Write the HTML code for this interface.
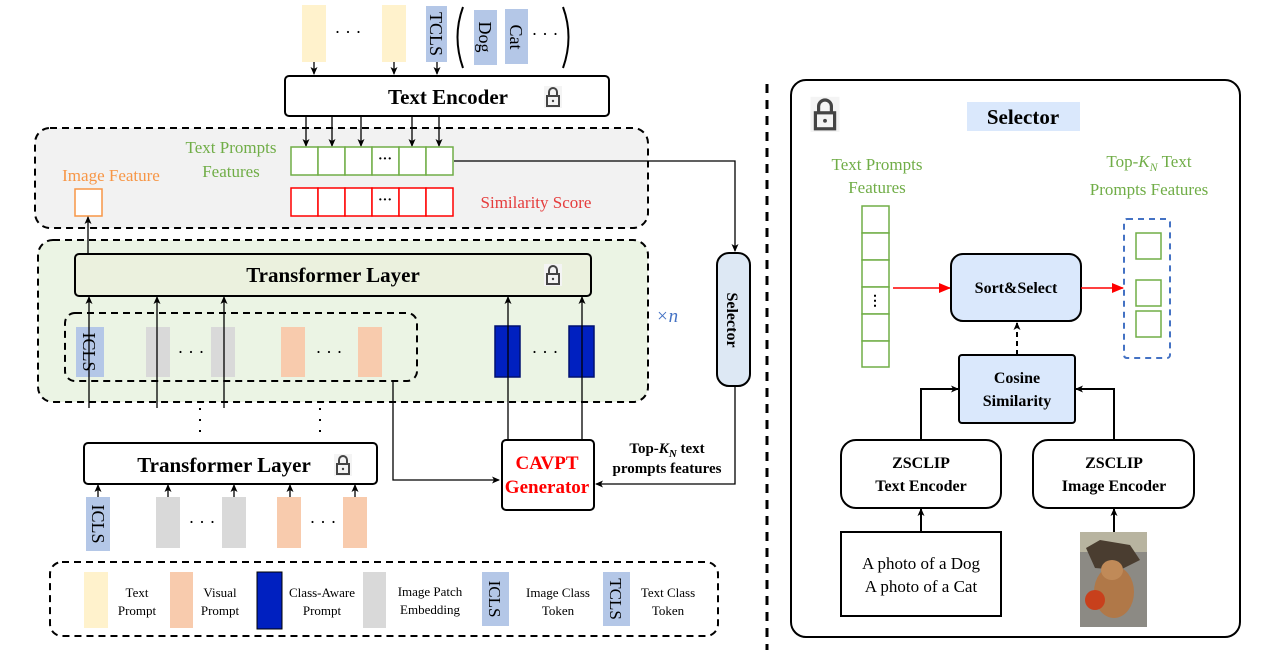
<!DOCTYPE html>
<html><head><meta charset="utf-8"><style>
html,body{margin:0;padding:0;background:#fff}
svg{display:block}
text{font-family:"Liberation Serif",serif}
.b{font-weight:bold}
</style></head><body>
<svg width="1285" height="664" viewBox="0 0 1285 664" xmlns="http://www.w3.org/2000/svg">
<defs>
<marker id="ar" markerWidth="8" markerHeight="8" refX="7" refY="4" orient="auto" markerUnits="userSpaceOnUse"><path d="M0,0.5 L8,4 L0,7.5 L2,4 Z" fill="#000"/></marker>
<marker id="arr" markerWidth="12" markerHeight="10" refX="11" refY="5" orient="auto" markerUnits="userSpaceOnUse"><path d="M0,0 L12,5 L0,10 Z" fill="#f00"/></marker>
<g id="lock"><rect x="-9" y="-12" width="18" height="22" fill="#f4f4f4"/><path d="M-4,-2 V-6 A4,4 0 0 1 4,-6 V-2" fill="none" stroke="#444" stroke-width="2"/><rect x="-6" y="-2" width="12" height="10" fill="none" stroke="#444" stroke-width="2"/><circle cx="0" cy="3" r="1.2" fill="#444"/></g>
</defs>

<!-- top tokens -->
<rect x="302" y="5" width="24" height="57" fill="#fff2cc"/>
<rect x="382" y="5" width="24" height="57" fill="#fff2cc"/>
<text x="348" y="38" font-size="18" text-anchor="middle">· · ·</text>
<rect x="426" y="6" width="21" height="56" fill="#b4c7e7"/>
<text transform="translate(430,34) rotate(90)" font-size="18" text-anchor="middle">TCLS</text>
<path d="M463,7 Q452,37 463,68" fill="none" stroke="#000" stroke-width="2"/>
<path d="M563,7 Q574,37 563,68" fill="none" stroke="#000" stroke-width="2"/>
<rect x="474" y="10" width="23" height="55" fill="#b4c7e7"/>
<rect x="505" y="9" width="23" height="55" fill="#b4c7e7"/>
<text transform="translate(479,37) rotate(90)" font-size="18" text-anchor="middle">Dog</text>
<text transform="translate(510,37) rotate(90)" font-size="18" text-anchor="middle">Cat</text>
<text x="545" y="40" font-size="18" text-anchor="middle">· · ·</text>
<g stroke="#000" stroke-width="1.3" marker-end="url(#ar)">
<line x1="314" y1="62" x2="314" y2="74"/><line x1="394" y1="62" x2="394" y2="74"/><line x1="437" y1="62" x2="437" y2="74"/>
</g>

<!-- Text encoder -->
<rect x="285" y="76" width="324" height="40" rx="4" fill="#fff" stroke="#000" stroke-width="2"/>
<text x="448" y="104" font-size="21" class="b" text-anchor="middle">Text Encoder</text>
<use href="#lock" x="553" y="98"/>

<!-- gray region -->
<rect x="35" y="128" width="613" height="100" rx="15" fill="#f2f2f2" stroke="#000" stroke-width="2" stroke-dasharray="7,5"/>
<g stroke="#000" stroke-width="1.3" marker-end="url(#ar)">
<line x1="306" y1="116" x2="306" y2="146"/><line x1="332" y1="116" x2="332" y2="146"/><line x1="361" y1="116" x2="361" y2="146"/><line x1="412" y1="116" x2="412" y2="146"/><line x1="439" y1="116" x2="439" y2="146"/>
</g>
<g fill="#fff" stroke="#70ad47" stroke-width="1.5">
<rect x="291" y="147" width="27" height="28"/><rect x="318" y="147" width="27" height="28"/><rect x="345" y="147" width="27" height="28"/><rect x="372" y="147" width="27" height="28"/><rect x="399" y="147" width="27" height="28"/><rect x="426" y="147" width="27" height="28"/>
</g>
<text x="385" y="163" font-size="14" text-anchor="middle" class="b">···</text>
<g fill="#fff" stroke="#f00" stroke-width="1.5">
<rect x="291" y="188" width="27" height="28"/><rect x="318" y="188" width="27" height="28"/><rect x="345" y="188" width="27" height="28"/><rect x="372" y="188" width="27" height="28"/><rect x="399" y="188" width="27" height="28"/><rect x="426" y="188" width="27" height="28"/>
</g>
<text x="385" y="204" font-size="14" text-anchor="middle" class="b">···</text>
<text x="231" y="153" font-size="17" fill="#70ad47" text-anchor="middle">Text Prompts</text>
<text x="231" y="177" font-size="17" fill="#70ad47" text-anchor="middle">Features</text>
<text x="111" y="181" font-size="17" fill="#f79646" text-anchor="middle">Image Feature</text>
<rect x="75" y="189" width="27" height="27" fill="#fff" stroke="#f79646" stroke-width="1.5"/>
<text x="536" y="208" font-size="17" fill="#e53c3c" text-anchor="middle">Similarity Score</text>
<polyline points="454,161 735,161 735,251" fill="none" stroke="#000" stroke-width="1.3" marker-end="url(#ar)"/>

<!-- green region -->
<rect x="38" y="240" width="610" height="162" rx="15" fill="#ebf4e4" stroke="#000" stroke-width="2" stroke-dasharray="7,5"/>
<line x1="88" y1="254" x2="88" y2="217" stroke="#000" stroke-width="1.3" marker-end="url(#ar)"/>
<rect x="75" y="254" width="516" height="42" rx="4" fill="#ebf1de" stroke="#000" stroke-width="2"/>
<text x="333" y="282" font-size="21" class="b" text-anchor="middle">Transformer Layer</text>
<use href="#lock" x="553" y="276"/>
<rect x="65" y="313" width="352" height="68" rx="10" fill="none" stroke="#000" stroke-width="2" stroke-dasharray="7,5"/>
<rect x="76" y="327" width="28" height="50" fill="#b4c7e7"/>
<text transform="translate(83,352) rotate(90)" font-size="18" text-anchor="middle">ICLS</text>
<rect x="146" y="327" width="24" height="50" fill="#d9d9d9"/>
<rect x="211" y="327" width="24" height="50" fill="#d9d9d9"/>
<text x="191" y="358" font-size="18" text-anchor="middle">· · ·</text>
<rect x="281" y="327" width="24" height="50" fill="#f8cbad"/>
<rect x="358" y="327" width="24" height="50" fill="#f8cbad"/>
<text x="329" y="358" font-size="18" text-anchor="middle">· · ·</text>
<rect x="495" y="326" width="25" height="51" fill="#0020c0" stroke="#001070" stroke-width="1.5"/>
<rect x="569" y="326" width="25" height="51" fill="#0020c0" stroke="#001070" stroke-width="1.5"/>
<text x="545" y="358" font-size="18" text-anchor="middle">· · ·</text>
<g stroke="#000" stroke-width="1.3" marker-end="url(#ar)">
<line x1="89" y1="408" x2="89" y2="297"/><line x1="157" y1="408" x2="157" y2="297"/><line x1="224" y1="408" x2="224" y2="297"/>
<line x1="508" y1="440" x2="508" y2="297"/><line x1="582" y1="440" x2="582" y2="297"/>
</g>
<text x="667" y="322" font-size="19" fill="#4472c4" font-style="italic" text-anchor="middle">×n</text>

<!-- selector pill -->
<rect x="717" y="253" width="33" height="133" rx="12" fill="#dde8f4" stroke="#000" stroke-width="2"/>
<text transform="translate(727,320) rotate(90)" font-size="16" class="b" text-anchor="middle">Selector</text>
<polyline points="735,386 735,484 596,484" fill="none" stroke="#000" stroke-width="1.3" marker-end="url(#ar)"/>

<!-- dotted -->
<line x1="200" y1="408" x2="200" y2="436" stroke="#000" stroke-width="2" stroke-dasharray="2,9"/>
<line x1="320" y1="408" x2="320" y2="436" stroke="#000" stroke-width="2" stroke-dasharray="2,9"/>

<!-- transformer 2 -->
<rect x="84" y="443" width="293" height="41" rx="4" fill="#fff" stroke="#000" stroke-width="2"/>
<text x="224" y="472" font-size="21" class="b" text-anchor="middle">Transformer Layer</text>
<use href="#lock" x="343" y="466"/>
<g stroke="#000" stroke-width="1.3" marker-end="url(#ar)">
<line x1="98" y1="497" x2="98" y2="485"/><line x1="168" y1="497" x2="168" y2="485"/><line x1="234" y1="497" x2="234" y2="485"/><line x1="290" y1="497" x2="290" y2="485"/><line x1="355" y1="497" x2="355" y2="485"/>
</g>
<rect x="86" y="497" width="24" height="54" fill="#b4c7e7"/>
<text transform="translate(92,524) rotate(90)" font-size="18" text-anchor="middle">ICLS</text>
<rect x="156" y="497" width="24" height="51" fill="#d9d9d9"/>
<rect x="222" y="497" width="24" height="51" fill="#d9d9d9"/>
<text x="202" y="528" font-size="18" text-anchor="middle">· · ·</text>
<rect x="277" y="497" width="24" height="51" fill="#f8cbad"/>
<rect x="343" y="497" width="24" height="51" fill="#f8cbad"/>
<text x="323" y="528" font-size="18" text-anchor="middle">· · ·</text>

<polyline points="393,381 393,480 499,480" fill="none" stroke="#000" stroke-width="1.3" marker-end="url(#ar)"/>
<rect x="502" y="440" width="92" height="70" rx="4" fill="#fff" stroke="#000" stroke-width="2"/>
<text x="547" y="469" font-size="19" class="b" fill="#f00" text-anchor="middle">CAVPT</text>
<text x="547" y="493" font-size="19" class="b" fill="#f00" text-anchor="middle">Generator</text>
<text x="667" y="453" font-size="15" class="b" text-anchor="middle">Top-<tspan font-style="italic">K</tspan><tspan font-size="11" font-style="italic" dy="4">N</tspan><tspan dy="-4"> text</tspan></text>
<text x="667" y="473" font-size="15" class="b" text-anchor="middle">prompts features</text>

<!-- legend -->
<rect x="50" y="562" width="668" height="74" rx="12" fill="none" stroke="#000" stroke-width="2" stroke-dasharray="7,5"/>
<rect x="84" y="572" width="24" height="56" fill="#fff2cc"/>
<text x="137" y="597" font-size="13" text-anchor="middle">Text</text><text x="137" y="615" font-size="13" text-anchor="middle">Prompt</text>
<rect x="170" y="572" width="23" height="56" fill="#f8cbad"/>
<text x="220" y="597" font-size="13" text-anchor="middle">Visual</text><text x="220" y="615" font-size="13" text-anchor="middle">Prompt</text>
<rect x="257" y="572" width="25" height="57" fill="#0020c0" stroke="#000" stroke-width="1"/>
<text x="322" y="597" font-size="13" text-anchor="middle">Class-Aware</text><text x="322" y="615" font-size="13" text-anchor="middle">Prompt</text>
<rect x="363" y="572" width="23" height="56" fill="#d9d9d9"/>
<text x="430" y="596" font-size="13" text-anchor="middle">Image Patch</text><text x="430" y="614" font-size="13" text-anchor="middle">Embedding</text>
<rect x="482" y="572" width="27" height="54" fill="#b4c7e7"/>
<text transform="translate(489,599) rotate(90)" font-size="17" text-anchor="middle">ICLS</text>
<text x="558" y="597" font-size="13" text-anchor="middle">Image Class</text><text x="558" y="615" font-size="13" text-anchor="middle">Token</text>
<rect x="603" y="572" width="27" height="54" fill="#b4c7e7"/>
<text transform="translate(610,599) rotate(90)" font-size="17" text-anchor="middle">TCLS</text>
<text x="668" y="597" font-size="13" text-anchor="middle">Text Class</text><text x="668" y="615" font-size="13" text-anchor="middle">Token</text>

<!-- separator -->
<line x1="767" y1="84" x2="767" y2="650" stroke="#000" stroke-width="3" stroke-dasharray="9,7"/>

<!-- right panel -->
<rect x="791" y="80" width="449" height="557" rx="15" fill="#fff" stroke="#000" stroke-width="2"/>
<g transform="translate(825,116) scale(1.6)"><use href="#lock"/></g>
<rect x="967" y="102" width="113" height="29" fill="#dae8fc"/>
<text x="1023" y="124" font-size="21" class="b" text-anchor="middle">Selector</text>
<text x="877" y="170" font-size="17" fill="#70ad47" text-anchor="middle">Text Prompts</text>
<text x="877" y="193" font-size="17" fill="#70ad47" text-anchor="middle">Features</text>
<g fill="#fff" stroke="#70ad47" stroke-width="1.5">
<rect x="862" y="206" width="27" height="27"/><rect x="862" y="233" width="27" height="27"/><rect x="862" y="260" width="27" height="27"/><rect x="862" y="287" width="27" height="27"/><rect x="862" y="314" width="27" height="27"/><rect x="862" y="341" width="27" height="26"/>
</g>
<text x="875" y="305" font-size="14" class="b" text-anchor="middle">⋮</text>
<line x1="893" y1="288" x2="950" y2="288" stroke="#f00" stroke-width="1.5" marker-end="url(#arr)"/>
<rect x="951" y="254" width="130" height="67" rx="12" fill="#dae8fc" stroke="#000" stroke-width="2"/>
<text x="1016" y="293" font-size="16" class="b" text-anchor="middle">Sort&amp;Select</text>
<line x1="1081" y1="288" x2="1123" y2="288" stroke="#f00" stroke-width="1.5" marker-end="url(#arr)"/>
<rect x="1124" y="219" width="46" height="139" rx="3" fill="none" stroke="#4472c4" stroke-width="2" stroke-dasharray="6,5"/>
<g fill="#fff" stroke="#70ad47" stroke-width="1.5">
<rect x="1136" y="233" width="25" height="26"/><rect x="1136" y="280" width="25" height="26"/><rect x="1136" y="311" width="25" height="26"/>
</g>
<text x="1149" y="167" font-size="17" fill="#70ad47" text-anchor="middle">Top-<tspan font-style="italic">K</tspan><tspan font-size="12" font-style="italic" dy="4">N</tspan><tspan dy="-4"> Text</tspan></text>
<text x="1149" y="195" font-size="17" fill="#70ad47" text-anchor="middle">Prompts Features</text>
<line x1="1017" y1="355" x2="1017" y2="323" stroke="#000" stroke-width="2" stroke-dasharray="5,4" marker-end="url(#ar)"/>
<rect x="959" y="355" width="116" height="68" rx="3" fill="#dae8fc" stroke="#000" stroke-width="2"/>
<text x="1017" y="383" font-size="16" class="b" text-anchor="middle">Cosine</text>
<text x="1017" y="406" font-size="16" class="b" text-anchor="middle">Similarity</text>
<polyline points="921,440 921,389 958,389" fill="none" stroke="#000" stroke-width="2" marker-end="url(#ar)"/>
<polyline points="1114,440 1114,389 1076,389" fill="none" stroke="#000" stroke-width="2" marker-end="url(#ar)"/>
<rect x="841" y="440" width="160" height="68" rx="15" fill="#fff" stroke="#000" stroke-width="2"/>
<text x="921" y="468" font-size="16" class="b" text-anchor="middle">ZSCLIP</text>
<text x="921" y="491" font-size="16" class="b" text-anchor="middle">Text Encoder</text>
<rect x="1033" y="440" width="161" height="68" rx="15" fill="#fff" stroke="#000" stroke-width="2"/>
<text x="1114" y="468" font-size="16" class="b" text-anchor="middle">ZSCLIP</text>
<text x="1114" y="491" font-size="16" class="b" text-anchor="middle">Image Encoder</text>
<line x1="921" y1="532" x2="921" y2="509" stroke="#000" stroke-width="2" marker-end="url(#ar)"/>
<line x1="1114" y1="532" x2="1114" y2="509" stroke="#000" stroke-width="2" marker-end="url(#ar)"/>
<rect x="841" y="532" width="160" height="84" fill="#fff" stroke="#000" stroke-width="2"/>
<text x="921" y="569" font-size="17" text-anchor="middle">A photo of a Dog</text>
<text x="921" y="592" font-size="17" text-anchor="middle">A photo of a Cat</text>
<!-- dog photo -->
<rect x="1080" y="532" width="67" height="95" fill="#8c8a84"/>
<rect x="1080" y="532" width="67" height="20" fill="#b8b4a0"/>
<path d="M1086,548 L1100,540 L1130,545 L1140,560 L1120,570 L1095,568 Z" fill="#4a3d30"/>
<ellipse cx="1114" cy="592" rx="20" ry="26" fill="#b07848"/>
<ellipse cx="1112" cy="570" rx="11" ry="10" fill="#c08a58"/>
<circle cx="1095" cy="600" r="10" fill="#c8401c"/>
</svg>
</body></html>
